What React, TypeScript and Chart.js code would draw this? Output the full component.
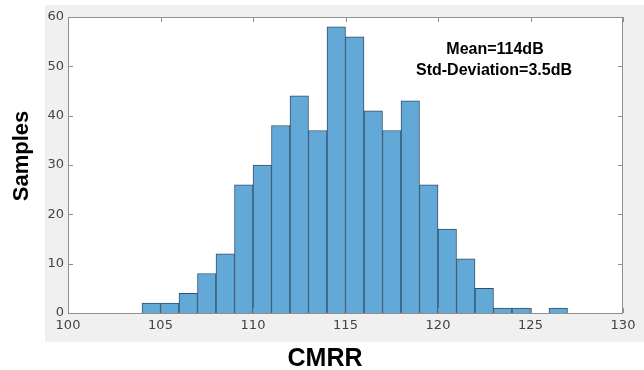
import React, { useEffect, useRef } from "react";
import { Chart, registerables } from "chart.js";

Chart.register(...registerables);

// Histogram of CMRR (bins of 1 dB)
const binStarts = [104, 105, 106, 107, 108, 109, 110, 111, 112, 113, 114, 115, 116, 117, 118, 119, 120, 121, 122, 123, 124, 125, 126];
const binCounts = [2, 2, 4, 8, 12, 26, 30, 38, 44, 37, 58, 56, 41, 37, 43, 26, 17, 11, 5, 1, 1, 0, 1];
const binWidth = 1;

const xMin = 100;
const xMax = 130;
const xStep = 5;
const yMin = 0;
const yMax = 60;
const yStep = 10;

const xTitle = "CMRR";
const yTitle = "Samples";
const noteLines = ["Mean=114dB", "Std-Deviation=3.5dB"];

const FRAME = "#8f8f8f";

const decorPlugin = {
  id: "decor",
  beforeDraw(chart: any) {
    const { ctx, chartArea: a } = chart;
    ctx.save();
    ctx.fillStyle = "#ffffff";
    ctx.fillRect(0, 0, chart.width, chart.height);
    ctx.fillStyle = "#f0f0f0";
    ctx.fillRect(45, 5, chart.width - 45, 337);
    ctx.fillStyle = "#ffffff";
    ctx.fillRect(a.left, a.top, a.right - a.left, a.bottom - a.top);
    ctx.restore();
  },
  afterDatasetsDraw(chart: any) {
    const { ctx, chartArea: a, scales } = chart;
    const xs = scales.x;
    const ys = scales.y;
    ctx.save();
    ctx.strokeStyle = FRAME;
    ctx.lineWidth = 1;
    ctx.strokeRect(a.left + 0.5, a.top + 0.5, a.right - a.left - 1, a.bottom - a.top);
    const tl = 5;
    ctx.beginPath();
    xs.ticks.forEach((t: any) => {
      const px = Math.round(xs.getPixelForValue(t.value)) + 0.5;
      ctx.moveTo(px, a.bottom);
      ctx.lineTo(px, a.bottom - tl);
      ctx.moveTo(px, a.top);
      ctx.lineTo(px, a.top + tl);
    });
    ys.ticks.forEach((t: any) => {
      const py = Math.round(ys.getPixelForValue(t.value)) + 0.5;
      ctx.moveTo(a.left, py);
      ctx.lineTo(a.left + tl, py);
      ctx.moveTo(a.right, py);
      ctx.lineTo(a.right - tl, py);
    });
    ctx.stroke();

    // annotation
    ctx.fillStyle = "#000000";
    ctx.font = "bold 16px 'Liberation Sans', Arial, sans-serif";
    ctx.textAlign = "center";
    ctx.textBaseline = "middle";
    ctx.fillText(noteLines[0], a.left + 427, a.top + 33);
    ctx.fillText(noteLines[1], a.left + 426, a.top + 54);

    // axis titles
    ctx.font = "bold 25px 'Liberation Sans', Arial, sans-serif";
    ctx.fillText(xTitle, 325, 359);
    ctx.save();
    ctx.translate(22, 156);
    ctx.rotate(-Math.PI / 2);
    ctx.font = "bold 22px 'Liberation Sans', Arial, sans-serif";
    ctx.fillText(yTitle, 0, 0);
    ctx.restore();
    ctx.restore();
  },
};

export default function App() {
  const ref = useRef<HTMLCanvasElement | null>(null);
  useEffect(() => {
    if (!ref.current) return;
    const data = binStarts.map((s, i) => ({ x: s + binWidth / 2, y: binCounts[i] }));
    const tickFont = { family: "'DejaVu Sans', sans-serif", size: 13 };
    const chart = new Chart(ref.current, {
      type: "bar",
      data: {
        datasets: [
          {
            data,
            backgroundColor: "#63a9d8",
            borderColor: "#32506a",
            borderWidth: 1,
            barPercentage: 1,
            categoryPercentage: 1,
          } as any,
        ],
      },
      options: {
        animation: false,
        responsive: false,
        devicePixelRatio: 1,
        layout: { padding: { top: 17, right: 21, left: 0, bottom: 0 } },
        plugins: { legend: { display: false }, tooltip: { enabled: false } },
        scales: {
          x: {
            type: "linear",
            min: xMin,
            max: xMax,
            offset: false,
            grid: { display: false, drawTicks: false, offset: false },
            border: { display: false },
            ticks: { stepSize: xStep, color: "#444444", font: tickFont, padding: 5, maxRotation: 0, autoSkip: false },
            afterFit: (s: any) => {
              s.height = 57;
            },
          },
          y: {
            type: "linear",
            min: yMin,
            max: yMax,
            grid: { display: false, drawTicks: false },
            border: { display: false },
            ticks: { stepSize: yStep, color: "#444444", font: tickFont, padding: 4 },
            afterFit: (s: any) => {
              s.width = 68;
            },
          },
        },
      } as any,
      plugins: [decorPlugin],
    });
    return () => chart.destroy();
  }, []);
  return (
    <div style={{ position: "fixed", left: 0, top: 0, width: 644, height: 370 }}>
      <canvas ref={ref} width={644} height={370} />
    </div>
  );
}
